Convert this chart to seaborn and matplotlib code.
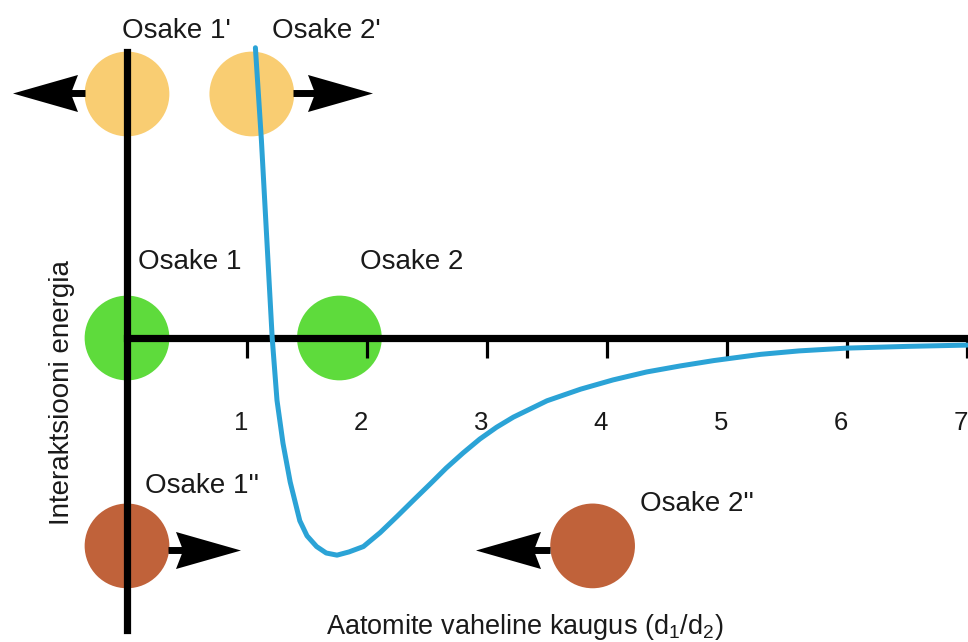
import numpy as np
import pandas as pd
import seaborn as sns
import matplotlib
matplotlib.use("Agg")
import matplotlib.pyplot as plt
from matplotlib.path import Path
from matplotlib.transforms import ScaledTranslation

# ---------------- data ----------------
distance = [1.07, 1.12, 1.165, 1.21, 1.25, 1.30, 1.36, 1.44, 1.50, 1.58, 1.66, 1.75,
            1.85, 1.97, 2.11, 2.25, 2.39, 2.53, 2.66, 2.80, 2.94, 3.08, 3.22, 3.50,
            3.78, 4.05, 4.33, 4.61, 4.89, 5.28, 5.60, 6.0, 6.5, 7.0]
energy = [1.35, 0.92, 0.46, 0.0, -0.29, -0.49, -0.67, -0.85, -0.92, -0.97, -1.00, -1.01,
          -0.995, -0.97, -0.905, -0.83, -0.753, -0.677, -0.605, -0.535, -0.47, -0.415,
          -0.368, -0.292, -0.238, -0.195, -0.158, -0.130, -0.105, -0.076, -0.060,
          -0.047, -0.039, -0.033]

tick_values = [1, 2, 3, 4, 5, 6, 7]
tick_labels = ["1", "2", "3", "4", "5", "6", "7"]

particle_names = ["Osake 1'", "Osake 2'", "Osake 1", "Osake 2", "Osake 1''", "Osake 2''"]
particle_x = [0.0, 1.04, 0.0, 1.77, 0.0, 3.88]
particle_y = [1.135, 1.135, 0.0, 0.0, -0.967, -0.967]
particle_state = ["repel", "repel", "equil", "equil", "attract", "attract"]

x_label = "Aatomite vaheline kaugus (d$_\\mathregular{1}$/d$_\\mathregular{2}$)"
y_label = "Interaktsiooni energia"

# ---------------- styles / layout ----------------
state_colors = {"repel": "#F9CD72", "equil": "#5EDB3C", "attract": "#C0623A"}
curve_color = "#2BA3D6"
text_color = "#1a1a1a"

# label anchors (left, vertical centre) in data units
label_pos = [(-0.04, 1.428), (1.208, 1.428), (0.092, 0.353), (1.94, 0.353),
             (0.15, -0.688), (4.275, -0.772)]

# arrows: (tail, tip, y)
arrows = [(-0.35, -0.958, 1.14), (1.383, 2.042, 1.14),
          (0.342, 0.942, -0.986), (3.525, 2.90, -0.986)]

sns.set_theme(style="white")
plt.rcParams["font.family"] = ["Liberation Sans", "DejaVu Sans"]

fig = plt.figure(figsize=(9.68, 6.42), dpi=100)
ax = fig.add_axes([0, 0, 1, 1])
PXX = 120.0   # pixels per x unit
PXY = 215.0   # pixels per y unit
ax.set_xlim(-127 / PXX, (968 - 127) / PXX)
ax.set_ylim(-(642 - 338) / PXY, 338 / PXY)
ax.set_facecolor("white")
ax.set_axisbelow(False)

# circles
df_p = pd.DataFrame({"x": particle_x, "y": particle_y, "state": particle_state})
sns.scatterplot(data=df_p, x="x", y="y", hue="state", palette=state_colors,
                s=61 ** 2, linewidth=0, legend=False, ax=ax, zorder=1)

# potential curve
df_c = pd.DataFrame({"d": distance, "E": energy})
sns.lineplot(data=df_c, x="d", y="E", color=curve_color, lw=3.6, ax=ax,
             zorder=3, solid_capstyle="round", solid_joinstyle="round")

# axes as spines through origin
for s in ["top", "right"]:
    ax.spines[s].set_visible(False)
ax.spines["left"].set_position(("data", 0))
ax.spines["bottom"].set_position(("data", 0))
ax.spines["left"].set_bounds((338 - 630) / PXY, (338 - 52) / PXY)
ax.spines["bottom"].set_bounds(0, (968 - 127) / PXX)
for s in ["left", "bottom"]:
    ax.spines[s].set_linewidth(5.2)
    ax.spines[s].set_color("black")
    ax.spines[s].set_zorder(2.5)
ax.set_yticks([])
ax.set_xticks(tick_values)
ax.set_xticklabels(tick_labels)
ax.tick_params(axis="x", direction="out", length=14.4, width=2.3, color="black",
               pad=38, labelsize=18.5, labelcolor=text_color, bottom=True)
for lab in ax.get_xticklabels():
    lab.set_transform(lab.get_transform() + ScaledTranslation(-6 / 100, 0, fig.dpi_scale_trans))

ax.set_xlabel(x_label, fontsize=19.5, color=text_color, va="center")
ax.xaxis.set_label_coords(525 / 968, 1 - 627 / 642)
ax.set_ylabel(y_label, fontsize=20, color=text_color, va="center")
ax.yaxis.set_label_coords(62 / 968, 1 - 393 / 642)

# particle labels
for name, (lx, ly) in zip(particle_names, label_pos):
    ax.text(lx, ly, name, fontsize=20, color=text_color, ha="left", va="center", zorder=5)

# arrowheads (barbed) as custom markers
head_right = Path([(1, 0), (-1, 0.57), (-0.78, 0), (-1, -0.57), (1, 0)],
                  [Path.MOVETO, Path.LINETO, Path.LINETO, Path.LINETO, Path.CLOSEPOLY])
head_left = Path([(-1, 0), (1, 0.57), (0.78, 0), (1, -0.57), (-1, 0)],
                 [Path.MOVETO, Path.LINETO, Path.LINETO, Path.LINETO, Path.CLOSEPOLY])
head_len_px = 65
for tail, tip, ay in arrows:
    direction = 1 if tip > tail else -1
    center = tip - direction * (head_len_px / 2) / PXX
    ax.plot([tail, center], [ay, ay], color="black", lw=5.0, zorder=4,
            solid_capstyle="butt")
    ax.plot([center], [ay], linestyle="none",
            marker=head_right if direction > 0 else head_left,
            markersize=head_len_px * 0.72, color="black", markeredgewidth=0, zorder=4)

fig.savefig("out.png", dpi=100)
